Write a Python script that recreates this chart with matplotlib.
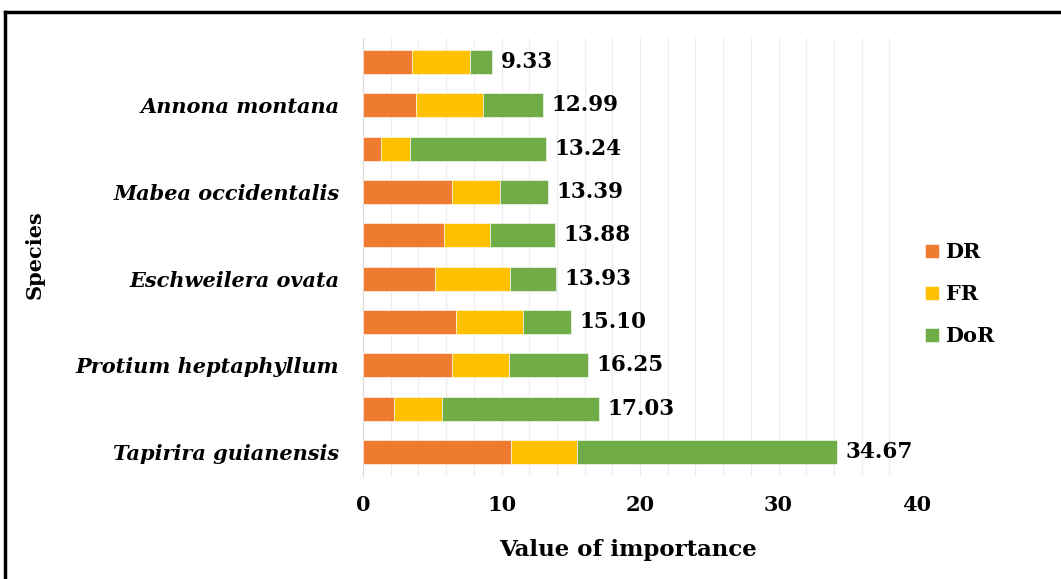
import matplotlib
matplotlib.use("Agg")
import matplotlib.pyplot as plt
from matplotlib.lines import Line2D
import numpy as np

species = ["Tapirira guianensis", "", "Protium heptaphyllum", "",
           "Eschweilera ovata", "", "Mabea occidentalis", "",
           "Annona montana", ""]
dr = [10.72, 2.22, 6.45, 6.74, 5.17, 5.82, 6.45, 1.30, 3.84, 3.55]
fr = [4.71, 3.50, 4.06, 4.83, 5.46, 3.38, 3.41, 2.06, 4.81, 4.16]
dor = [18.77, 11.31, 5.75, 3.48, 3.28, 4.65, 3.50, 9.88, 4.34, 1.62]
totals = [34.67, 17.03, 16.25, 15.10, 13.93, 13.88, 13.39, 13.24, 12.99, 9.33]
series_names = ["DR", "FR", "DoR"]
colors = ["#EE7B30", "#FFC000", "#70AD47"]

plt.rcParams['font.family'] = ['DejaVu Serif']
plt.rcParams['font.weight'] = 'bold'

fig = plt.figure(figsize=(10.61, 5.79), dpi=100)
ax = fig.add_axes([363/1061, 1-476/579, (917-363)/1061, (476-38)/579])

y = np.arange(len(species))
h = 0.55
left = np.zeros(len(species))
for vals, name, c in zip([dr, fr, dor], series_names, colors):
    ax.barh(y, vals, left=left, height=h, color=c, label=name,
            edgecolor="white", linewidth=0.4, zorder=3)
    left = left + np.array(vals)

for yi, end, t in zip(y, left, totals):
    ax.annotate(f"{t:.2f}", xy=(end, yi), xytext=(6, 0), textcoords="offset points",
                va="center", ha="left", fontsize=15.5, fontweight="bold")

ax.set_xlim(0, 40)
ax.set_ylim(-0.55, len(species) - 0.45)
ax.set_xticks([0, 10, 20, 30, 40])
ax.set_xticks(np.arange(0, 41, 2), minor=True)
ax.xaxis.grid(True, which="both", color="#ececec", linewidth=0.8, zorder=0)
ax.set_yticks(y)
ax.set_yticklabels(species, fontsize=15, fontweight="bold", style="italic")
ax.tick_params(axis="x", which="both", length=0, labelsize=15, pad=14)
ax.tick_params(axis="y", length=0, pad=17)
for s in ["top", "right", "bottom"]:
    ax.spines[s].set_visible(False)
ax.spines["left"].set_color("#d9d9d9")

fig.text(628/1061, 1-550/579, "Value of importance", fontsize=16.5, fontweight="bold",
         ha="center", va="center")
fig.text(35/1061, 1-255/579, "Species", rotation=90, fontsize=15, fontweight="bold",
         ha="center", va="center")

ax.legend(loc="center left", bbox_to_anchor=(0.98, 0.415), frameon=False,
          handlelength=0.7, handleheight=0.7, labelspacing=1.05,
          handletextpad=0.3, prop={'weight': 'bold', 'size': 15})

fig.add_artist(Line2D([5/1061, 5/1061], [0, 1-12/579], color="black", linewidth=2.5,
                      transform=fig.transFigure))
fig.add_artist(Line2D([5/1061, 1], [1-12/579, 1-12/579], color="black", linewidth=2.5,
                      transform=fig.transFigure))

fig.savefig("out.png", dpi=100)
